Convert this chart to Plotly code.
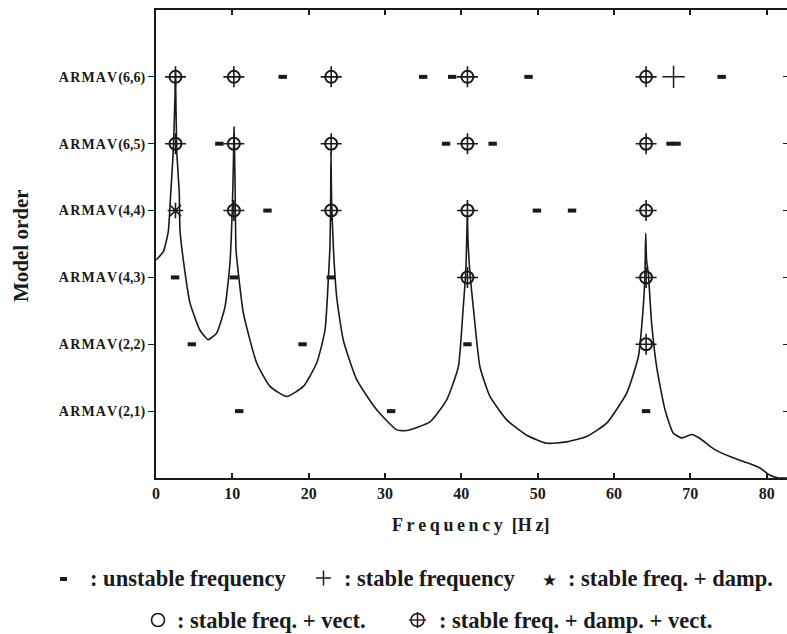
import plotly.graph_objects as go

# ---------------- data ----------------
order_labels = ["ARMAV(2,1)", "ARMAV(2,2)", "ARMAV(4,3)", "ARMAV(4,4)", "ARMAV(6,5)", "ARMAV(6,6)"]
order_pos = [1, 2, 3, 4, 5, 6]
x_ticks = [0, 10, 20, 30, 40, 50, 60, 70, 80]

unstable_freq = [16.6, 35.0, 38.8, 48.8, 74.1,
                 8.3, 38.0, 44.1, 67.4, 68.2,
                 14.6, 49.9, 54.5,
                 2.5, 10.2, 22.9,
                 4.7, 19.2, 40.8,
                 10.9, 30.8, 64.2]
unstable_order = ["ARMAV(6,6)"] * 5 + ["ARMAV(6,5)"] * 5 + ["ARMAV(4,4)"] * 3 + \
                 ["ARMAV(4,3)"] * 3 + ["ARMAV(2,2)"] * 3 + ["ARMAV(2,1)"] * 3

stable_freq = [67.8]
stable_order = ["ARMAV(6,6)"]

stable_damp_freq = [2.55]
stable_damp_order = ["ARMAV(4,4)"]

stable_dv_freq = [2.55, 10.2, 22.95, 40.8, 64.2,
                  2.55, 10.2, 22.95, 40.8, 64.2,
                  10.2, 22.95, 40.8, 64.2,
                  40.8, 64.2,
                  64.2]
stable_dv_order = ["ARMAV(6,6)"] * 5 + ["ARMAV(6,5)"] * 5 + ["ARMAV(4,4)"] * 4 + \
                  ["ARMAV(4,3)"] * 2 + ["ARMAV(2,2)"]

# spectrum curve (height in model-order axis units)
spectrum_freq = [0.0, 0.96, 1.61, 1.93, 2.27, 2.49, 2.55, 2.71, 3.05, 3.14, 3.58, 4.45, 5.76,
                 6.85, 7.95, 9.04, 9.69, 9.99, 10.15, 10.22, 10.35, 10.48, 10.65, 11.44,
                 13.19, 14.93, 17.12, 19.30, 21.05, 22.14, 22.57, 22.79, 22.88, 22.92, 23.0,
                 23.23, 23.67, 24.54, 26.29, 28.91, 31.53, 32.84, 35.89, 38.08, 39.60, 40.25,
                 40.57, 40.70, 40.78, 40.87, 41.13, 41.56, 42.44, 43.75, 45.94, 48.56, 51.18,
                 53.80, 56.42, 59.04, 61.66, 63.18, 63.83, 64.06, 64.15, 64.26, 64.49, 64.93,
                 65.59, 66.68, 67.76, 68.86, 70.17, 71.26, 73.00, 75.19, 77.38, 79.12, 80.43,
                 81.52, 82.66]
spectrum_level = [3.26, 3.385, 3.69, 4.26, 4.91, 5.73, 6.10, 4.91, 4.26, 3.71, 3.26, 2.62, 2.21,
                  2.07, 2.17, 2.56, 3.22, 4.01, 4.76, 5.25, 4.46, 3.41, 3.21, 2.47,
                  1.72, 1.37, 1.22, 1.37, 1.72, 2.21, 2.96, 3.46, 4.16, 4.86, 4.16,
                  3.46, 2.71, 2.06, 1.47, 1.02, 0.72, 0.71, 0.84, 1.17, 1.66, 2.56,
                  3.06, 3.56, 3.95, 3.56, 3.06, 2.56, 1.66, 1.22, 0.87, 0.64, 0.52,
                  0.54, 0.62, 0.82, 1.27, 1.81, 2.56, 3.06, 3.66, 3.26, 3.06, 2.31,
                  1.66, 1.02, 0.67, 0.60, 0.65, 0.59, 0.44, 0.32, 0.23, 0.15, 0.04,
                  0.0, 0.0]

legend_labels = [": unstable frequency", ": stable frequency", ": stable freq. + damp.",
                 ": stable freq. + vect.", ": stable freq. + damp. + vect."]

# ---------------- layout constants ----------------
W, H = 787, 634
ML, MR, MT, MB = 156, 0, 10, 156
PW, PH = W - ML - MR, H - MT - MB
X_MAX = 82.66
SERIF = "Liberation Serif"
INK = "#1a1a1a"
HS = "\u200a"
TS = "\u2009"


def ypos(labels):
    return [order_pos[order_labels.index(l)] for l in labels]


def px(x):
    return (x - ML) / PW


def py(y):
    return (H - MB - y) / PH


def spaced(label):
    head, tail = label.split("(")
    return "<b>" + HS.join(list(head)) + HS + "(" + tail + "</b>"


fig = go.Figure()

fig.add_trace(go.Scatter(x=spectrum_freq, y=spectrum_level, mode="lines",
                         line=dict(color=INK, width=1.6, shape="spline", smoothing=0.5),
                         hoverinfo="skip"))

fig.add_trace(go.Scatter(x=unstable_freq, y=ypos(unstable_order), mode="markers",
                         marker=dict(symbol="line-ew-open", size=6, color=INK,
                                     line=dict(color=INK, width=4))))
fig.add_trace(go.Scatter(x=stable_freq, y=ypos(stable_order), mode="markers",
                         marker=dict(symbol="cross-thin-open", size=16, color=INK,
                                     line=dict(color=INK, width=1.5))))
fig.add_trace(go.Scatter(x=stable_damp_freq, y=ypos(stable_damp_order), mode="markers",
                         marker=dict(symbol="asterisk-open", size=13, color=INK,
                                     line=dict(color=INK, width=1.6))))
fig.add_trace(go.Scatter(x=stable_dv_freq, y=ypos(stable_dv_order), mode="markers",
                         marker=dict(symbol="circle-open", size=12, color=INK,
                                     line=dict(color=INK, width=2))))
fig.add_trace(go.Scatter(x=stable_dv_freq, y=ypos(stable_dv_order), mode="markers",
                         marker=dict(symbol="cross-thin-open", size=15, color=INK,
                                     line=dict(color=INK, width=1.6))))
# right-hand ticks
fig.add_trace(go.Scatter(x=[None], y=[None], yaxis="y2", showlegend=False))

fig.update_layout(
    width=W, height=H,
    margin=dict(l=ML, r=MR, t=MT, b=MB),
    paper_bgcolor="white", plot_bgcolor="white",
    showlegend=False,
    font=dict(family=SERIF, color=INK),
    xaxis=dict(range=[0, X_MAX], tickvals=x_ticks,
               ticktext=["<b>%d</b>" % v for v in x_ticks],
               showline=True, linecolor=INK, linewidth=2, mirror="ticks",
               ticks="inside", ticklen=5, tickwidth=1.5, tickcolor=INK,
               showgrid=False, zeroline=False,
               tickfont=dict(family=SERIF, size=16, color=INK)),
    yaxis=dict(range=[0, 7], tickvals=order_pos, ticktext=[spaced(l) for l in order_labels],
               showline=True, linecolor=INK, linewidth=2,
               ticks="outside", ticklen=6, tickwidth=1.3, tickcolor=INK,
               showgrid=False, zeroline=False,
               tickfont=dict(family=SERIF, size=14, color=INK)),
    yaxis2=dict(range=[0, 7], overlaying="y", side="right", tickvals=order_pos,
                showticklabels=False, ticks="inside", ticklen=4, tickwidth=1.3,
                tickcolor=INK, showline=False, showgrid=False, zeroline=False),
)

annotations = [
    dict(text="<b>" + TS.join("Frequency") + "  [" + TS.join("Hz") + "]</b>",
         x=px(470), y=py(525), xref="paper", yref="paper",
         xanchor="center", yanchor="middle",
         showarrow=False, font=dict(family=SERIF, size=18, color=INK)),
    dict(text="<b>Model order</b>",
         x=px(21), y=py(246), xref="paper", yref="paper",
         xanchor="center", yanchor="middle",
         textangle=-90, showarrow=False,
         font=dict(family=SERIF, size=21, color=INK)),
]
legend_pos = [(88, 578), (342, 578), (566, 578), (175, 620), (437, 620)]
for lab, (lx, ly) in zip(legend_labels, legend_pos):
    annotations.append(dict(text="<b>" + lab + "</b>", x=px(lx), y=py(ly),
                            xref="paper", yref="paper",
                            xanchor="left", yanchor="middle", showarrow=False,
                            font=dict(family=SERIF, size=22.5, color=INK)))
annotations.append(dict(text="★", x=px(549), y=py(580), xref="paper", yref="paper",
                        xanchor="center", yanchor="middle",
                        showarrow=False, font=dict(family="DejaVu Sans", size=17, color=INK)))
fig.update_layout(annotations=annotations)

shapes = []
# unstable dash
shapes.append(dict(type="rect", xref="paper", yref="paper", x0=px(60), x1=px(67),
                   y0=py(581), y1=py(577), fillcolor=INK, line=dict(width=0)))
# plus
shapes.append(dict(type="line", xref="paper", yref="paper", x0=px(316), x1=px(331),
                   y0=py(578), y1=py(578), line=dict(color=INK, width=1.5)))
shapes.append(dict(type="line", xref="paper", yref="paper", x0=px(323.5), x1=px(323.5),
                   y0=py(570.5), y1=py(585.5), line=dict(color=INK, width=1.5)))
# circle
shapes.append(dict(type="circle", xref="paper", yref="paper", x0=px(151.5), x1=px(164.5),
                   y0=py(613.5), y1=py(626.5), line=dict(color=INK, width=1.6)))
# circle plus
shapes.append(dict(type="circle", xref="paper", yref="paper", x0=px(411), x1=px(424),
                   y0=py(613.5), y1=py(626.5), line=dict(color=INK, width=1.6)))
shapes.append(dict(type="line", xref="paper", yref="paper", x0=px(409), x1=px(426),
                   y0=py(620), y1=py(620), line=dict(color="#5a1a1a", width=1.5)))
shapes.append(dict(type="line", xref="paper", yref="paper", x0=px(417.5), x1=px(417.5),
                   y0=py(612), y1=py(628), line=dict(color=INK, width=1.5)))
fig.update_layout(shapes=shapes)

fig.write_html("out.html")
